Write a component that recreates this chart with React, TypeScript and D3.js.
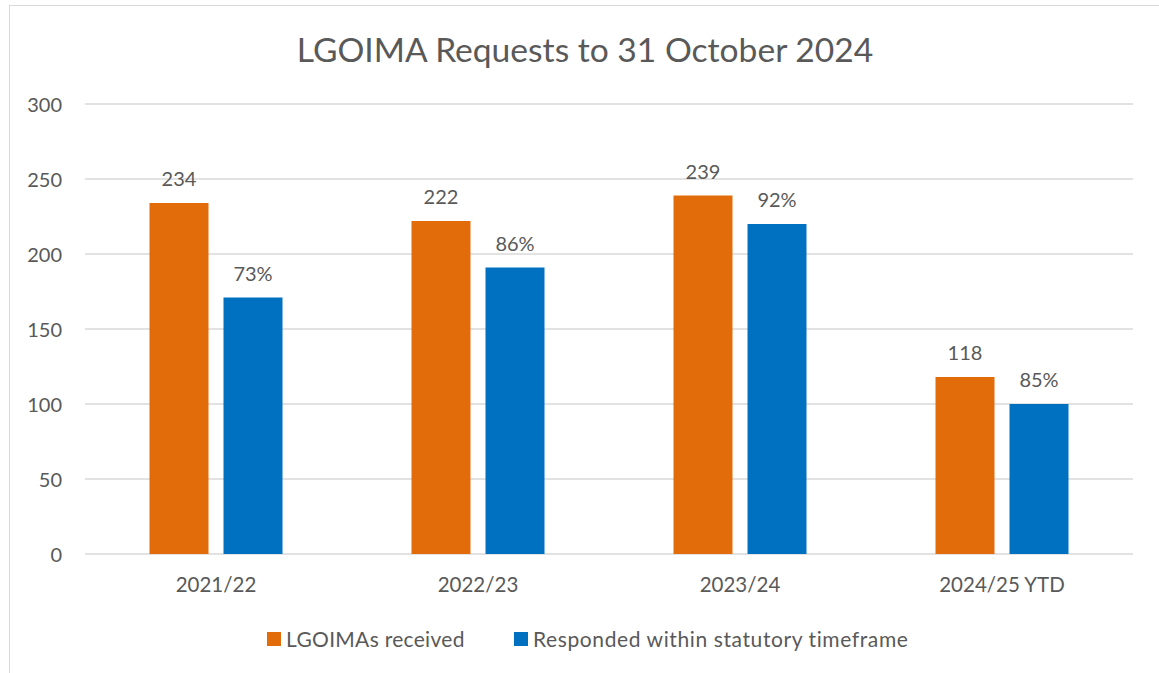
import React from "react";
import * as d3 from "d3";

const categories = ["2021/22", "2022/23", "2023/24", "2024/25 YTD"];
const received = [234, 222, 239, 118];
const responded = [171, 191, 220, 100];
const respondedLabels = ["73%", "86%", "92%", "85%"];
const yTicks = [0, 50, 100, 150, 200, 250, 300];
const seriesNames = ["LGOIMAs received", "Responded within statutory timeframe"];
const colors = ["#E36C0A", "#0070C0"];

const W = 1159;
const H = 673;
const FONT = "Lato, 'Open Sans', sans-serif";
const TEXT = "#595959";

export default function App() {
  const y = d3.scaleLinear().domain([0, 300]).range([554, 104]);
  const x0 = d3
    .scaleBand<string>()
    .domain(categories)
    .range([85, 1133])
    .paddingInner(0.4924)
    .paddingOuter(0.2462);
  const x1 = d3
    .scaleBand<string>()
    .domain(["a", "b"])
    .range([0, x0.bandwidth()])
    .paddingInner(0.2027)
    .paddingOuter(0);

  return (
    <svg
      width={W}
      height={H}
      style={{ position: "absolute", left: 0, top: 0, background: "#fff" }}
      fontFamily={FONT}
    >
      <rect x={9.5} y={5.5} width={1170} height={700} fill="#fff" stroke="#d9d9d9" strokeWidth={1} />
      <text x={585} y={62} textAnchor="middle" fontSize={33.6} fill={TEXT}>
        LGOIMA Requests to 31 October 2024
      </text>
      {yTicks.map((t) => (
        <g key={t}>
          <line x1={85} x2={1133} y1={y(t)} y2={y(t)} stroke="#d9d9d9" strokeWidth={1.5} />
          <text x={62} y={y(t) + 7.5} textAnchor="end" fontSize={20} fill={TEXT}>
            {t}
          </text>
        </g>
      ))}
      {categories.map((c, i) => {
        const gx = x0(c)!;
        const ax = gx + x1("a")!;
        const bx = gx + x1("b")!;
        const bw = x1.bandwidth();
        return (
          <g key={c}>
            <rect x={ax} y={y(received[i])} width={bw} height={y(0) - y(received[i])} fill={colors[0]} />
            <rect x={bx} y={y(responded[i])} width={bw} height={y(0) - y(responded[i])} fill={colors[1]} />
            <text x={ax + bw / 2} y={y(received[i]) - 17} textAnchor="middle" fontSize={20} fill={TEXT}>
              {received[i]}
            </text>
            <text x={bx + bw / 2} y={y(responded[i]) - 17} textAnchor="middle" fontSize={20} fill={TEXT}>
              {respondedLabels[i]}
            </text>
            <text x={gx + x0.bandwidth() / 2} y={592} textAnchor="middle" fontSize={20.5} fill={TEXT}>
              {c}
            </text>
          </g>
        );
      })}
      <g>
        <rect x={267} y={632} width={14} height={14} fill={colors[0]} />
        <text x={286} y={647} fontSize={21} letterSpacing={0.3} fill={TEXT}>
          {seriesNames[0]}
        </text>
        <rect x={514} y={632} width={14} height={14} fill={colors[1]} />
        <text x={533} y={647} fontSize={21} letterSpacing={0.6} fill={TEXT}>
          {seriesNames[1]}
        </text>
      </g>
    </svg>
  );
}
